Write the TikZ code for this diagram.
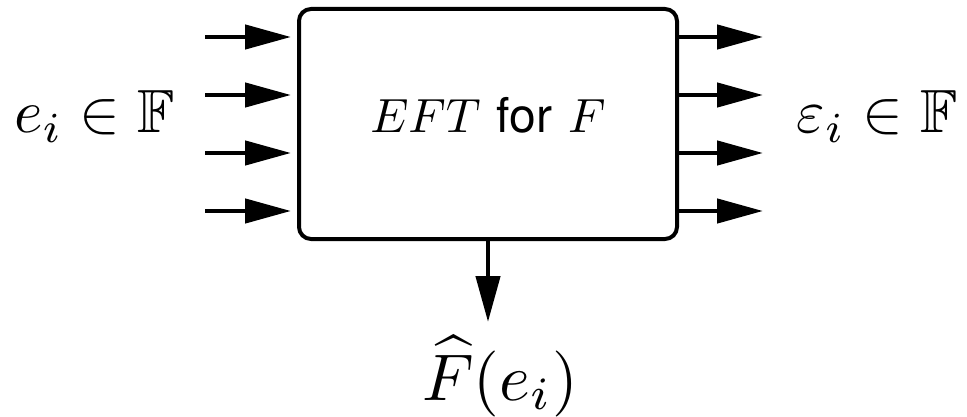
\documentclass[tikz,border=0pt]{standalone}
\usepackage{amssymb}
\usepackage{graphicx}
\usepackage{fontspec}
\newfontfamily\helv{TeX Gyre Heros}
\usetikzlibrary{arrows.meta}
\tikzset{
  blk/.style={draw, line width=4pt, rounded corners=12pt, minimum width=378pt, minimum height=230pt, inner sep=0pt},
  sig/.style={line width=4.5pt, -{Triangle[length=46pt,width=24pt]}},
  lbl/.style={inner sep=0pt, anchor=base}
}
\begin{document}
\begin{tikzpicture}[x=1pt,y=-1pt]
\useasboundingbox (0,0) rectangle (967,417);
\node[blk] (box) at (488,124) {};
\node[lbl] (c) at (488,133) {\scalebox{4.8}{$EFT$ {\helv for} $F$}};
\foreach \i/\y in {1/37,2/95,3/153,4/211}{
  \coordinate (l\i) at (205,\y);
  \coordinate (r\i) at (763,\y);
  \draw[sig, shorten >=6pt] (l\i) -- (l\i -| box.west);
  \draw[sig] (box.east |- r\i) -- (r\i);
}
\coordinate (d) at (488,322);
\draw[sig] (box.south) -- (d);
\node[lbl] (ein) at (94.5,133) {\scalebox{6.1}{$e_i \in \mathbb{F}$}};
\node[lbl] (eout) at (877,133) {\scalebox{6.1}{$\varepsilon_i \in \mathbb{F}$}};
\node[lbl] (fhat) at (500,400) {\scalebox{6.6}{$\widehat{F}(e_i)$}};
\end{tikzpicture}
\end{document}
